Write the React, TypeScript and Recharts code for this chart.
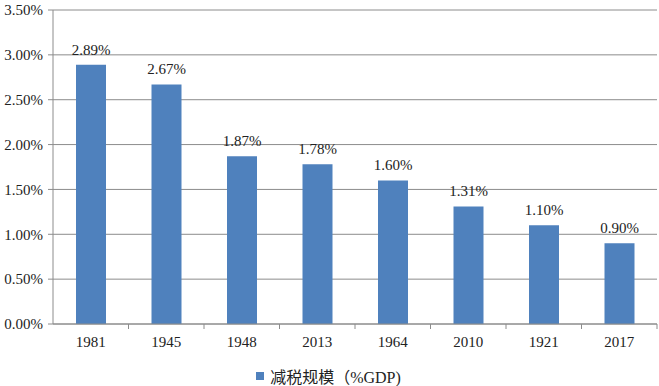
import { BarChart, Bar, XAxis, YAxis, CartesianGrid, Legend, LabelList } from "recharts";

const years = ["1981", "1945", "1948", "2013", "1964", "2010", "1921", "2017"];
const taxCut = [2.89, 2.67, 1.87, 1.78, 1.6, 1.31, 1.1, 0.9];
const yTicks = [0, 0.5, 1, 1.5, 2, 2.5, 3, 3.5];

const data = years.map((year, i) => ({ year, value: taxCut[i] }));

const FONT = "'Liberation Serif', 'Times New Roman', 'Noto Sans CJK SC', serif";
const BAR = "#4F81BD";
const GRID = "#8C8C8C";

function XTick(props: any) {
  const { x, y, payload } = props;
  const half = 75.5 / 2;
  return (
    <g>
      <line x1={x + half} x2={x + half} y1={y - 8} y2={y - 3} stroke={GRID} />
      <text x={x} y={y + 15} textAnchor="middle" fontSize={15} fill="#222" fontFamily={FONT}>
        {payload.value}
      </text>
    </g>
  );
}

function LegendBox() {
  return (
    <div style={{ display: "flex", justifyContent: "center", alignItems: "center", fontFamily: FONT, fontSize: 16, color: "#222" }}>
      <span style={{ width: 8, height: 8, background: BAR, display: "inline-block", marginRight: 6 }} />
      <span>减税规模（%GDP)</span>
    </div>
  );
}

export default function App() {
  return (
    <div style={{ position: "absolute", left: 0, top: 0, background: "#fff" }}>
      <BarChart width={659} height={386} data={data} margin={{ top: 10, right: 2, left: 0, bottom: 0 }} barCategoryGap="30%">
        <CartesianGrid vertical={false} stroke={GRID} />
        <XAxis
          dataKey="year"
          height={40}
          axisLine={{ stroke: GRID }}
          tickLine={false}
          tick={<XTick />}
        />
        <YAxis
          width={53}
          domain={[0, 3.5]}
          ticks={yTicks}
          interval={0}
          axisLine={{ stroke: GRID }}
          tickLine={{ stroke: GRID }}
          tickSize={5}
          tickMargin={5}
          tickFormatter={(v: number) => v.toFixed(2) + "%"}
          tick={{ fontSize: 15, fill: "#222", fontFamily: FONT }}
        />
        <Legend verticalAlign="bottom" height={22} content={<LegendBox />} />
        <Bar dataKey="value" fill={BAR} barSize={30} isAnimationActive={false}>
          <LabelList
            dataKey="value"
            position="top"
            offset={10}
            formatter={(v: any) => Number(v).toFixed(2) + "%"}
            style={{ fontSize: 15, fill: "#222", fontFamily: FONT }}
          />
        </Bar>
      </BarChart>
    </div>
  );
}
